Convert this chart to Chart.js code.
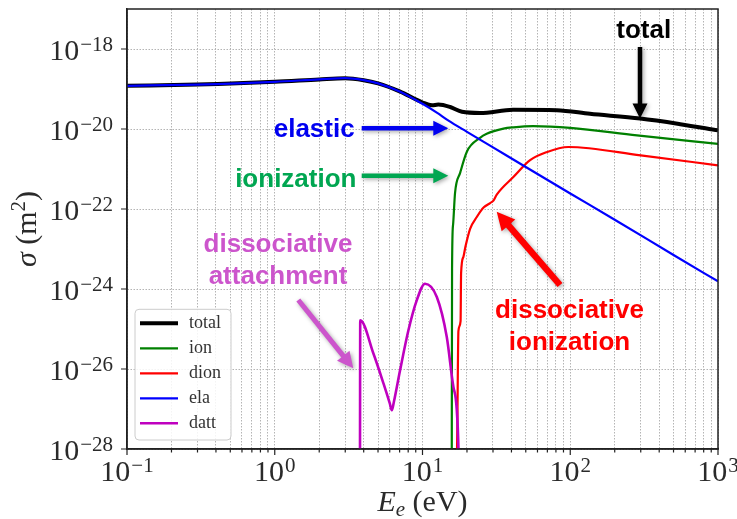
<!DOCTYPE html>
<html>
<head>
<meta charset="utf-8">
<script src="https://cdn.jsdelivr.net/npm/chart.js@4.4.0/dist/chart.umd.min.js"></script>
<style>
    html, body { margin: 0; padding: 0; background: #fff; }
</style>
</head>
<body>
<canvas id="xsec" width="737" height="519"></canvas>

<script>
    // energies in eV, cross sections in m^2
    var elaE   = [0.1, 0.3, 1, 2, 3, 4, 5, 7, 10, 12.5, 15, 20, 30, 50, 100, 200, 500, 1000];
    var elaSig = [1.20e-19, 1.29e-19, 1.51e-19, 1.74e-19, 1.86e-19, 1.66e-19, 1.38e-19, 8.7e-20,
                  4.27e-20, 2.57e-20, 1.62e-20, 8.5e-21, 3.47e-21, 1.12e-21, 2.45e-22, 5.4e-23,
                  7.1e-24, 1.55e-24];

    var totE   = [0.1, 0.3, 1, 2, 3, 4, 5, 7, 10, 11.6, 12.8, 15.4, 18.5, 24.5, 41, 81, 136, 298, 555, 1000];
    var totSig = [1.20e-19, 1.29e-19, 1.51e-19, 1.74e-19, 1.86e-19, 1.66e-19, 1.38e-19, 8.7e-20,
                  4.6e-20, 3.9e-20, 4.1e-20, 3.55e-20, 2.69e-20, 2.51e-20, 3.02e-20, 2.95e-20,
                  2.4e-20, 1.82e-20, 1.32e-20, 9.3e-21];

    var ionE   = [15.76, 15.85, 16.1, 16.6, 18, 20, 24.5, 27.2, 35.3, 41.2, 56, 100, 283, 1000];
    var ionSig = [1e-30, 3.2e-24, 4.0e-23, 2.5e-22, 8.1e-22, 2.75e-21, 6.0e-21, 7.6e-21,
                  1.02e-20, 1.1e-20, 1.18e-20, 1.07e-20, 6.9e-21, 4.27e-21];

    var dionE   = [17.0, 17.2, 17.5, 18.1, 18.25, 18.9, 19.5, 21, 23.3, 26, 28.7, 30.2, 31.8,
                   41.2, 53.5, 69, 97, 300, 1000];
    var dionSig = [1e-29, 3.2e-28, 8.9e-26, 1.58e-25, 2.5e-24, 6.3e-24, 1.12e-23, 3.2e-23, 6.3e-23,
                   1.1e-22, 1.41e-22, 1.62e-22, 2.29e-22, 6.3e-22, 1.66e-21, 2.63e-21, 3.55e-21,
                   2.19e-21, 1.23e-21];

    var dattE   = [3.77, 3.79, 4.66, 5.45, 6.0, 6.2, 6.4, 7.05, 8.03, 9.14, 10.4, 12.5, 14.6, 16.2, 17.5, 17.7];
    var dattSig = [1e-30, 1.66e-25, 2.4e-26, 4.3e-27, 1.4e-27, 9.3e-28, 1.5e-27, 9.3e-27, 9.3e-26,
                   5.2e-25, 1.35e-24, 6.3e-25, 6.3e-26, 3.5e-27, 1.1e-28, 1e-30];

    var seriesNames  = ['total', 'ion', 'dion', 'ela', 'datt'];
    var seriesColors = ['#000000', '#008000', '#ff0000', '#0000ff', '#bf00bf'];
    var seriesWidths = [4, 2.2, 2.2, 2.2, 2.6];

    var xTickExps = [-1, 0, 1, 2, 3];
    var yTickExps = [-28, -26, -24, -22, -20, -18];

    var SERIF = '"Liberation Serif", "DejaVu Serif", serif';
    var SANS = '"Liberation Sans", Arial, sans-serif';

    function pts(xs, ys) {
        var out = [];
        for (var i = 0; i < xs.length; i++) out.push({x: xs[i], y: ys[i]});
        return out;
    }

    var seriesData = [pts(totE, totSig), pts(ionE, ionSig), pts(dionE, dionSig), pts(elaE, elaSig), pts(dattE, dattSig)];

    var datasets = [];
    for (var i = 0; i < seriesNames.length; i++) {
        datasets.push({
            label: seriesNames[i],
            data: seriesData[i],
            borderColor: seriesColors[i],
            backgroundColor: seriesColors[i],
            borderWidth: seriesWidths[i],
            pointRadius: 0,
            fill: false,
            cubicInterpolationMode: 'monotone',
            order: seriesNames.length - i   // later series on top, like the plotting order
        });
    }

    // "10" with a raised exponent, y = baseline of the "10"
    function powLabel(ctx, exp, x, y, align) {
        var fs = 30, fsSup = 21;
        var sup = String(exp).replace('-', '\u2212');
        ctx.font = fs + 'px ' + SERIF;
        var wb = ctx.measureText('10').width;
        ctx.font = fsSup + 'px ' + SERIF;
        var ws = ctx.measureText(sup).width;
        var w = wb + 1 + ws;
        var x0 = align === 'right' ? x - w : x - w / 2;
        ctx.textAlign = 'left';
        ctx.textBaseline = 'alphabetic';
        ctx.font = fs + 'px ' + SERIF;
        ctx.fillText('10', x0, y);
        ctx.font = fsSup + 'px ' + SERIF;
        ctx.fillText(sup, x0 + wb + 1, y - 9.3);
    }

    function arrow(ctx, x1, y1, x2, y2, color, w, head) {
        var a = Math.atan2(y2 - y1, x2 - x1), len = Math.hypot(x2 - x1, y2 - y1);
        ctx.save();
        ctx.shadowColor = 'rgba(0,0,0,0.35)';
        ctx.shadowBlur = 4;
        ctx.shadowOffsetX = 1.5;
        ctx.shadowOffsetY = 1.5;
        ctx.translate(x1, y1);
        ctx.rotate(a);
        ctx.fillStyle = color;
        ctx.beginPath();
        ctx.moveTo(0, -w / 2);
        ctx.lineTo(len - head, -w / 2);
        ctx.lineTo(len - head, -head / 2);
        ctx.lineTo(len, 0);
        ctx.lineTo(len - head, head / 2);
        ctx.lineTo(len - head, w / 2);
        ctx.lineTo(0, w / 2);
        ctx.closePath();
        ctx.fill();
        ctx.restore();
    }

    // callout labels with their arrows
    var notes = [
        {lines: ['total'], color: '#000000', cx: 643.7, base: [38.3], from: [640, 47], to: [640, 118.5], w: 4.5, head: 15},
        {lines: ['elastic'], color: '#0000f0', cx: 314.2, base: [137.3], from: [361.7, 128.3], to: [448.3, 128.3], w: 4.5, head: 15},
        {lines: ['ionization'], color: '#00a651', cx: 295.8, base: [187.3], from: [361.7, 175.7], to: [448.3, 175.7], w: 4.5, head: 15},
        {lines: ['dissociative', 'attachment'], color: '#cc55cc', cx: 278, base: [251.7, 284], from: [298.3, 300], to: [353.3, 368.3], w: 5, head: 16},
        {lines: ['dissociative', 'ionization'], color: '#ff0000', cx: 569.5, base: [318.3, 350], from: [560, 285], to: [496.7, 211.7], w: 6.5, head: 18}
    ];

    var decor = {
        id: 'decor',
        afterDraw: function (chart) {
            var ctx = chart.ctx, area = chart.chartArea;
            var xs = chart.scales.x, ys = chart.scales.y;
            ctx.save();

            // frame
            ctx.strokeStyle = '#222';
            ctx.lineWidth = 1.5;
            ctx.strokeRect(area.left, area.top, area.right - area.left, area.bottom - area.top);

            // tick marks
            ctx.lineWidth = 1.2;
            ctx.beginPath();
            xs.ticks.forEach(function (t) {
                var px = xs.getPixelForValue(t.value);
                var m = Math.round(t.value / Math.pow(10, Math.floor(Math.log10(t.value) + 1e-9)));
                var len = m === 1 ? 6 : 3.5;
                ctx.moveTo(px, area.bottom);
                ctx.lineTo(px, area.bottom + len);
            });
            ys.ticks.forEach(function (t) {
                var py = ys.getPixelForValue(t.value);
                ctx.moveTo(area.left, py);
                ctx.lineTo(area.left - 6, py);
            });
            ctx.stroke();

            // tick labels
            ctx.fillStyle = '#2a2a2a';
            xTickExps.forEach(function (e) {
                powLabel(ctx, e, xs.getPixelForValue(Math.pow(10, e)), area.bottom + 32.3, 'center');
            });
            yTickExps.forEach(function (e) {
                powLabel(ctx, e, area.left - 14, ys.getPixelForValue(Math.pow(10, e)) + 11, 'right');
            });

            // x axis title: E_e (eV)
            var cx = (area.left + area.right) / 2, by = area.bottom + 62;
            ctx.font = 'italic 30px ' + SERIF;
            var wE = ctx.measureText('E').width;
            ctx.font = 'italic 21px ' + SERIF;
            var we = ctx.measureText('e').width;
            ctx.font = '30px ' + SERIF;
            var wr = ctx.measureText(' (eV)').width;
            var x0 = cx - (wE + we + wr) / 2;
            ctx.textAlign = 'left';
            ctx.font = 'italic 30px ' + SERIF;
            ctx.fillText('E', x0, by);
            ctx.font = 'italic 21px ' + SERIF;
            ctx.fillText('e', x0 + wE, by + 5);
            ctx.font = '30px ' + SERIF;
            ctx.fillText(' (eV)', x0 + wE + we, by);

            // y axis title: sigma (m^2)
            ctx.save();
            ctx.translate(36, (area.top + area.bottom) / 2);
            ctx.rotate(-Math.PI / 2);
            ctx.font = 'italic 30px ' + SERIF;
            var ws = ctx.measureText('\u03c3').width;
            ctx.font = '30px ' + SERIF;
            var wm = ctx.measureText(' (m').width;
            ctx.font = '21px ' + SERIF;
            var w2 = ctx.measureText('2').width;
            ctx.font = '30px ' + SERIF;
            var wp = ctx.measureText(')').width;
            var y0 = -(ws + wm + w2 + wp) / 2;
            ctx.font = 'italic 30px ' + SERIF;
            ctx.fillText('\u03c3', y0, 0);
            ctx.font = '30px ' + SERIF;
            ctx.fillText(' (m', y0 + ws, 0);
            ctx.font = '21px ' + SERIF;
            ctx.fillText('2', y0 + ws + wm, -11);
            ctx.font = '30px ' + SERIF;
            ctx.fillText(')', y0 + ws + wm + w2, 0);
            ctx.restore();

            // legend
            var lx = area.left + 8, ly = 309.3, lw = 96, lh = 130.7;
            ctx.fillStyle = 'rgba(255,255,255,0.85)';
            ctx.strokeStyle = '#cccccc';
            ctx.lineWidth = 1;
            ctx.beginPath();
            ctx.roundRect(lx, ly, lw, lh, 4);
            ctx.fill();
            ctx.stroke();
            chart.data.datasets.forEach(function (ds, i) {
                var ry = 323.3 + i * 25;
                ctx.strokeStyle = ds.borderColor;
                ctx.lineWidth = ds.borderWidth;
                ctx.beginPath();
                ctx.moveTo(lx + 5, ry);
                ctx.lineTo(lx + 43, ry);
                ctx.stroke();
                ctx.fillStyle = '#333';
                ctx.font = '18px ' + SERIF;
                ctx.textBaseline = 'middle';
                ctx.fillText(ds.label, lx + 54, ry);
            });
            ctx.textBaseline = 'alphabetic';

            // callouts
            notes.forEach(function (n) {
                arrow(ctx, n.from[0], n.from[1], n.to[0], n.to[1], n.color, n.w, n.head);
                ctx.fillStyle = n.color;
                ctx.font = 'bold 26px ' + SANS;
                ctx.textAlign = 'center';
                n.lines.forEach(function (s, k) {
                    ctx.fillText(s, n.cx, n.base[k]);
                });
            });

            ctx.restore();
        }
    };

    new Chart(document.getElementById('xsec'), {
        type: 'line',
        data: {datasets: datasets},
        options: {
            responsive: false,
            animation: false,
            devicePixelRatio: 1,
            parsing: false,
            layout: {padding: {left: 127, right: 19, top: 9, bottom: 70}},
            plugins: {legend: {display: false}, tooltip: {enabled: false}},
            scales: {
                x: {
                    type: 'logarithmic',
                    min: 0.1,
                    max: 1000,
                    afterBuildTicks: function (scale) {
                        var t = [];
                        for (var d = -1; d <= 2; d++) {
                            for (var m = 1; m <= 9; m++) t.push({value: m * Math.pow(10, d)});
                        }
                        t.push({value: 1000});
                        scale.ticks = t;
                    },
                    afterFit: function (scale) { scale.height = 0; },
                    ticks: {display: false},
                    grid: {color: '#b4b4b4', lineWidth: 1, drawTicks: false},
                    border: {color: '#222', width: 1.5, dash: [1.5, 1.5]}
                },
                y: {
                    type: 'logarithmic',
                    min: 1e-28,
                    max: 1e-17,
                    afterBuildTicks: function (scale) {
                        scale.ticks = yTickExps.map(function (e) { return {value: Math.pow(10, e)}; });
                    },
                    afterFit: function (scale) { scale.width = 0; },
                    ticks: {display: false},
                    grid: {color: '#b4b4b4', lineWidth: 1, drawTicks: false},
                    border: {color: '#222', width: 1.5, dash: [1.5, 1.5]}
                }
            }
        },
        plugins: [decor]
    });
</script>
</body>
</html>
